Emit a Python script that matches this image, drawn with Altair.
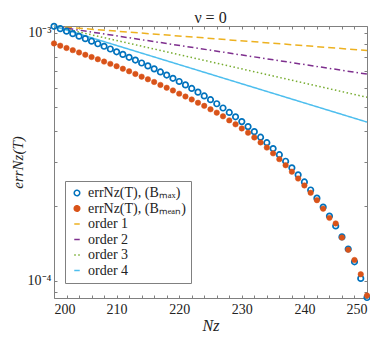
import altair as alt
import pandas as pd

N = list(range(200, 251))
err_bmax = [1.062e-3, 1.039e-3, 1.015e-3, 9.92e-4, 9.69e-4, 9.47e-4, 9.25e-4, 9.03e-4, 8.82e-4, 8.60e-4,
            8.38e-4, 8.18e-4, 7.96e-4, 7.76e-4, 7.55e-4, 7.35e-4, 7.15e-4, 6.95e-4, 6.75e-4, 6.55e-4,
            6.36e-4, 6.16e-4, 5.96e-4, 5.76e-4, 5.56e-4, 5.37e-4, 5.17e-4, 4.97e-4, 4.77e-4, 4.58e-4,
            4.38e-4, 4.18e-4, 3.99e-4, 3.79e-4, 3.60e-4, 3.41e-4, 3.22e-4, 3.03e-4, 2.85e-4, 2.67e-4,
            2.50e-4, 2.32e-4, 2.15e-4, 1.98e-4, 1.82e-4, 1.66e-4, 1.50e-4, 1.34e-4, 1.19e-4, 1.02e-4, 8.54e-5]
err_bmean = [9.06e-4, 8.87e-4, 8.68e-4, 8.51e-4, 8.33e-4, 8.15e-4, 7.98e-4, 7.82e-4, 7.65e-4, 7.49e-4,
             7.33e-4, 7.16e-4, 6.99e-4, 6.82e-4, 6.65e-4, 6.49e-4, 6.33e-4, 6.16e-4, 6.00e-4, 5.85e-4,
             5.68e-4, 5.53e-4, 5.38e-4, 5.22e-4, 5.07e-4, 4.91e-4, 4.76e-4, 4.60e-4, 4.43e-4, 4.27e-4,
             4.11e-4, 3.95e-4, 3.78e-4, 3.61e-4, 3.44e-4, 3.26e-4, 3.09e-4, 2.92e-4, 2.75e-4, 2.58e-4,
             2.42e-4, 2.26e-4, 2.11e-4, 1.95e-4, 1.79e-4, 1.70e-4, 1.49e-4, 1.33e-4, 1.21e-4, 1.06e-4, 8.70e-5]

order_N = [200, 250]
order1 = [1.062e-3, 8.48e-4]
order2 = [1.062e-3, 6.81e-4]
order3 = [1.062e-3, 5.49e-4]
order4 = [1.062e-3, 4.36e-4]

names = ["errNz(T), (Bₘₐₓ)", "errNz(T), (Bₘₑₐₙ)", "order 1", "order 2", "order 3", "order 4"]
colors = ["#0072BD", "#D95319", "#EDB120", "#7E2F8E", "#77AC30", "#4DBEEE"]
shapes = ["circle", "circle", "stroke", "stroke", "stroke", "stroke"]
fills = ["transparent", "#D95319", "transparent", "transparent", "transparent", "transparent"]
dashes = [[1, 0], [1, 0], [7, 4], [6, 3, 1.5, 3], [1.5, 2.5], [1, 0]]
sizes = [30, 30, 576, 576, 576, 576]

blue_df = pd.DataFrame({"N": N, "value": err_bmax, "series": names[0]})
red_df = pd.DataFrame({"N": N, "value": err_bmean, "series": names[1]})
rows = []
for nm, vals in zip(names[2:], [order1, order2, order3, order4]):
    for n, v in zip(order_N, vals):
        rows.append({"N": n, "value": v, "series": nm})
lines_df = pd.DataFrame(rows)

FONT = "'Liberation Serif', 'Times New Roman', serif"
GRAY = "#808080"
xs = alt.Scale(domain=[200, 250], nice=False, zero=False)
ys = alt.Scale(type="log", domain=[8.5e-5, 1.065e-3], nice=False)

leg = alt.Legend(title=None, orient="none", legendX=11, legendY=155, strokeColor=GRAY,
                 fillColor="white", padding=5, rowPadding=1.5, labelFont=FONT, labelFontSize=14,
                 labelColor="#222", symbolStrokeWidth=1.5, labelLimit=300, offset=0)
leg_plain = alt.Legend(title=None)

color = alt.Color("series:N", scale=alt.Scale(domain=names, range=colors), legend=leg)
shape = alt.Shape("series:N", scale=alt.Scale(domain=names, range=shapes), legend=leg_plain)
fill = alt.Fill("series:N", scale=alt.Scale(domain=names, range=fills), legend=leg_plain)
size = alt.Size("series:N", scale=alt.Scale(domain=names, range=sizes), legend=leg_plain)
dash = alt.StrokeDash("series:N", scale=alt.Scale(domain=names, range=dashes), legend=leg_plain)

xvals_major = [200, 210, 220, 230, 240, 250]
xvals_minor = list(range(200, 251, 2))
yvals_major = [1e-4, 1e-3]
yvals_minor = [9e-5, 1e-4, 2e-4, 3e-4, 4e-4, 5e-4, 6e-4, 7e-4, 8e-4, 9e-4, 1e-3]

ax_x_lab = alt.Axis(orient="bottom", values=xvals_major, ticks=False, domain=False, grid=False,
                    labelFont=FONT, labelFontSize=14, labelColor="#222", labelPadding=4,
                    title="Nz", titleFont=FONT, titleFontSize=16, titleFontStyle="italic",
                    titleFontWeight="normal", titleColor="#222", titlePadding=1)
ax_y_lab = alt.Axis(orient="left", values=yvals_major, ticks=False, domain=False, grid=False,
                    labelExpr="datum.value > 5e-4 ? '10⁻³' : '10⁻⁴'",
                    labelFont=FONT, labelFontSize=14, labelColor="#222", labelPadding=3,
                    title="errNz(T)", titleFont=FONT, titleFontSize=15, titleFontStyle="italic",
                    titleFontWeight="normal", titleColor="#222", titlePadding=2)


def tick_axis(orient, vals):
    return alt.Axis(orient=orient, values=vals, labels=False, ticks=True, tickSize=3, offset=-3,
                    tickColor=GRAY, tickWidth=1, domain=False, grid=False, title=None)


lines = alt.Chart(lines_df).mark_line(strokeWidth=1.5).encode(
    x=alt.X("N:Q", scale=xs, axis=tick_axis("top", xvals_minor)),
    y=alt.Y("value:Q", scale=ys, axis=tick_axis("right", yvals_minor)),
    color=color, strokeDash=dash, detail="series:N",
)
blue = alt.Chart(blue_df).mark_point(strokeWidth=1.7, opacity=1).encode(
    x=alt.X("N:Q", scale=xs, axis=ax_x_lab),
    y=alt.Y("value:Q", scale=ys, axis=ax_y_lab),
    color=color, shape=shape, fill=fill, size=size,
)
red = alt.Chart(red_df).mark_point(strokeWidth=0.5, opacity=1).encode(
    x=alt.X("N:Q", scale=xs, axis=tick_axis("bottom", xvals_minor)),
    y=alt.Y("value:Q", scale=ys, axis=tick_axis("left", yvals_minor)),
    color=color, shape=shape, fill=fill, size=size,
)

chart = alt.layer(lines, blue, red).resolve_axis(x="independent", y="independent").properties(
    width=313, height=272,
    title=alt.TitleParams("ν = 0", font=FONT, fontSize=16, fontWeight="normal", color="#222",
                          offset=2, dy=8),
    autosize=alt.AutoSizeParams(type="none"),
    padding={"left": 46, "top": 18, "right": 3, "bottom": 40},
).configure_view(stroke=GRAY, strokeWidth=1)

chart.save("out.html", embed_options={"renderer": "svg", "actions": False})
